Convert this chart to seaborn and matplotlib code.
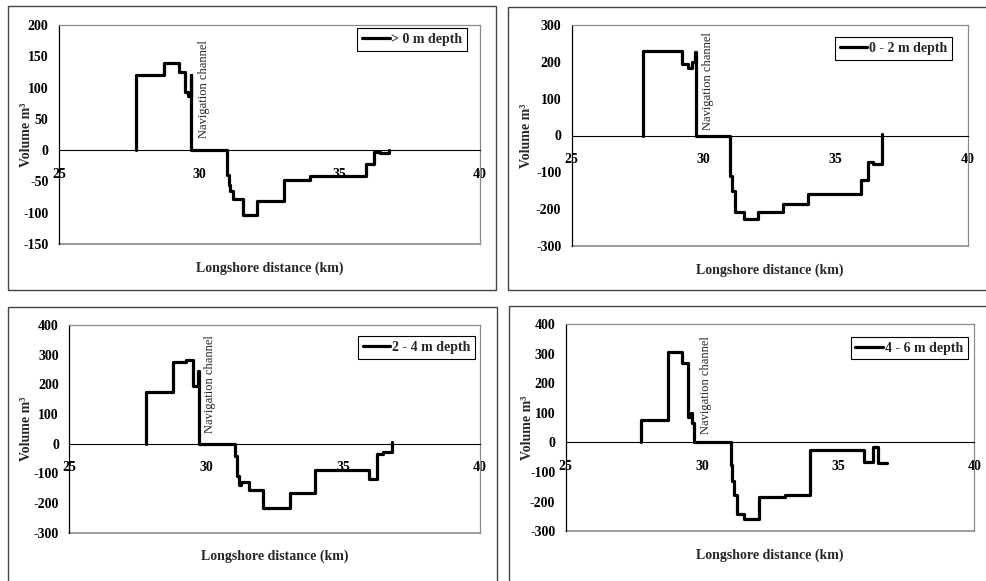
import matplotlib
matplotlib.use("Agg")
import matplotlib.pyplot as plt
import seaborn as sns
from matplotlib.patches import Rectangle

# step positions (km) and volumes (m3)
x_0m = [27.73, 27.73, 28.73, 29.27, 29.49, 29.58, 29.70, 29.72, 31.00, 31.04, 31.10, 31.20,
        31.56, 32.06, 33.03, 33.94, 35.93, 36.22, 36.44, 36.74]
v_0m = [0, 120, 140, 125, 93, 87, 120, 0, -40, -55, -65, -78,
        -103, -82, -48, -42, -22, -3, -5, 0]

x_0_2 = [27.69, 27.69, 29.17, 29.42, 29.57, 29.67, 29.71, 31.01, 31.09, 31.19, 31.54, 32.07,
         33.02, 33.94, 35.95, 36.21, 36.43, 36.77]
v_0_2 = [0, 229, 193, 183, 200, 226, 0, -110, -151, -209, -228, -209,
         -186, -159, -121, -72, -77, 3]

x_2_4 = [27.79, 27.79, 28.80, 29.26, 29.53, 29.71, 29.75, 31.07, 31.11, 31.19, 31.26, 31.58,
         32.09, 33.06, 33.98, 35.95, 36.25, 36.45, 36.78]
v_2_4 = [0, 173, 275, 281, 196, 245, 0, -40, -109, -139, -129, -157,
         -216, -167, -90, -119, -35, -27, 4]

x_4_6 = [27.75, 27.75, 28.75, 29.26, 29.48, 29.60, 29.65, 29.72, 31.06, 31.10, 31.17, 31.28,
         31.56, 32.10, 33.05, 33.97, 35.95, 36.27, 36.46, 36.79]
v_4_6 = [0, 76, 307, 267, 85, 100, 65, 0, -76, -130, -177, -242,
         -260, -183, -178, -25, -67, -14, -70, -70]

labels = ["> 0 m depth", "0 - 2 m depth", "2 - 4 m depth", "4 - 6 m depth"]
y_ticks = [list(range(-150, 201, 50)), list(range(-300, 301, 100)),
           list(range(-300, 401, 100)), list(range(-300, 401, 100))]
x_ticks = [25, 30, 35, 40]

sns.set_style("white")
plt.rcParams["font.family"] = ["Liberation Serif", "DejaVu Serif"]
plt.rcParams["axes.unicode_minus"] = False

W, H = 987, 581
fig = plt.figure(figsize=(W / 100, H / 100), dpi=100)

# plot areas in pixels: left, right, top, bottom
areas = [(59, 480, 25, 244), (571.7, 967.7, 25, 246),
         (69.3, 480, 325, 532.7), (565.7, 974.3, 324, 531.3)]
boxes = [(8, 496, 6, 290), (508, 995, 7, 290), (8, 497, 307, 595), (509, 995, 306, 595)]
legend_gap = [(13, 3), (15.7, 12), (5, 11), (6.6, 12.7)]
ylabel_x = [-0.062, -0.098, -0.089, -0.077]
nav_y = [20, 15, 35, 30]
series = [(x_0m, v_0m), (x_0_2, v_0_2), (x_2_4, v_2_4), (x_4_6, v_4_6)]

for bx0, bx1, by0, by1 in boxes:
    fig.patches.append(Rectangle((bx0 / W, 1 - by1 / H), (bx1 - bx0) / W, (by1 - by0) / H,
                                 transform=fig.transFigure, fill=False,
                                 edgecolor="#444444", lw=1.0))

for i, (l, r, t, b) in enumerate(areas):
    ax = fig.add_axes([l / W, 1 - b / H, (r - l) / W, (b - t) / H])
    xs, vs = series[i]
    sns.lineplot(x=xs, y=vs, ax=ax, sort=False, estimator=None, color="black",
                 lw=2.3, drawstyle="steps-post", label=labels[i])
    ax.set_xlim(25, 40)
    ax.set_ylim(y_ticks[i][0], y_ticks[i][-1])
    ax.set_xticks(x_ticks)
    ax.set_yticks(y_ticks[i])
    ax.grid(False)

    ax.spines["bottom"].set_position(("data", 0))
    ax.spines["bottom"].set_color("black")
    ax.spines["bottom"].set_linewidth(0.8)
    ax.spines["left"].set_color("black")
    ax.spines["left"].set_linewidth(0.9)
    for s in ["top", "right"]:
        ax.spines[s].set_color("#8a8a8a")
        ax.spines[s].set_linewidth(0.9)
    ax.axhline(y_ticks[i][0], color="#8a8a8a", lw=1.2, clip_on=False)

    ax.tick_params(axis="x", direction="out", length=3, width=0.8, pad=9.5,
                   labelsize=10, colors="black")
    ax.tick_params(axis="y", direction="out", length=3, width=0.8, pad=4.5,
                   labelsize=10, colors="black")
    for lab in ax.get_xticklabels() + ax.get_yticklabels():
        lab.set_fontweight("bold")

    ax.set_xlabel("")
    ax.set_ylabel("Volume m³", fontsize=10, fontweight="bold")
    ax.yaxis.set_label_coords(ylabel_x[i], 0.5)
    ax.text(0.5, -24 / (b - t), "Longshore distance (km)", transform=ax.transAxes,
            ha="center", va="center", fontsize=10, fontweight="bold")
    ax.text(30.15, nav_y[i], "Navigation channel", rotation=90, ha="center",
            va="bottom", fontsize=9)

    gr, gt = legend_gap[i]
    leg = ax.legend(loc="upper right", bbox_to_anchor=(1 - gr / (r - l), 1 - gt / (b - t)),
                    borderaxespad=0, fancybox=False, framealpha=1, edgecolor="black",
                    handlelength=2.0, handletextpad=0.1, borderpad=0.35,
                    prop={"weight": "bold", "size": 10})
    leg.get_frame().set_linewidth(0.8)

fig.savefig("out.png", dpi=100)
